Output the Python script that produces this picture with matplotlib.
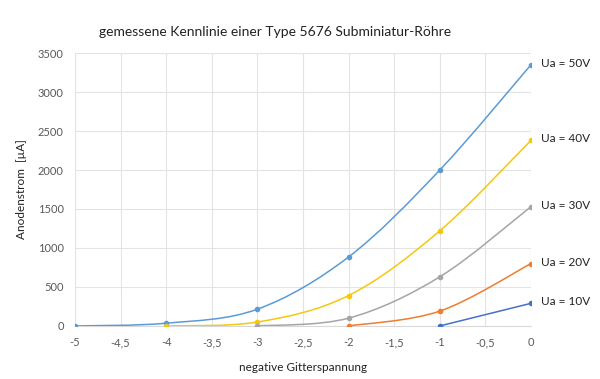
import numpy as np
import matplotlib.pyplot as plt
from matplotlib.path import Path
from matplotlib.patches import PathPatch

plt.rcParams['font.family'] = ['Lato', 'DejaVu Sans']

# measured curves: grid voltage [V] -> anode current [uA]
ug_50 = [-5, -4, -3, -2, -1, 0]
ia_50 = [0, 35, 215, 885, 2000, 3350]
ug_40 = [-4, -3, -2, -1, 0]
ia_40 = [0, 50, 390, 1220, 2380]
ug_30 = [-3, -2, -1, 0]
ia_30 = [0, 100, 630, 1530]
ug_20 = [-2, -1, 0]
ia_20 = [0, 190, 800]
ug_10 = [-1, 0]
ia_10 = [0, 290]

labels = ['Ua = 50V', 'Ua = 40V', 'Ua = 30V', 'Ua = 20V', 'Ua = 10V']
colors = ['#5B9BD5', '#F2C811', '#A5A5A5', '#ED7D31', '#4472C4']
xticks = [-5, -4.5, -4, -3.5, -3, -2.5, -2, -1.5, -1, -0.5, 0]
yticks = [0, 500, 1000, 1500, 2000, 2500, 3000, 3500]


def smooth_path(x, y):
    # Excel-style smoothed line: Catmull-Rom segments as cubic Bezier
    pts = np.column_stack([x, y]).astype(float)
    verts = [pts[0]]
    codes = [Path.MOVETO]
    n = len(pts)
    for i in range(n - 1):
        p0 = pts[i - 1] if i > 0 else pts[i]
        p1 = pts[i]
        p2 = pts[i + 1]
        p3 = pts[i + 2] if i + 2 < n else pts[i + 1]
        c1 = p1 + (p2 - p0) / 6.0
        c2 = p2 - (p3 - p1) / 6.0
        verts += [c1, c2, p2]
        codes += [Path.CURVE4] * 3
    return Path(verts, codes)


fig = plt.figure(figsize=(6, 3.79), dpi=100)
ax = fig.add_axes([0.125, 0.14, 0.76, 0.72])

series = [(ug_50, ia_50), (ug_40, ia_40), (ug_30, ia_30),
          (ug_20, ia_20), (ug_10, ia_10)]
for (x, y), c, lab in zip(series, colors, labels):
    ax.add_patch(PathPatch(smooth_path(x, y), fill=False, edgecolor=c,
                           linewidth=1.1, zorder=3))
    ax.plot(x, y, 'o', color=c, markersize=3, zorder=4)
    ax.annotate(lab, xy=(x[-1], y[-1]), xytext=(7, 1),
                textcoords='offset points', va='center', ha='left',
                fontsize=8.5, color='#222222', annotation_clip=False)

ax.set_xlim(-5, 0)
ax.set_ylim(0, 3500)
ax.set_xticks(xticks)
ax.set_xticklabels([f'{t:g}'.replace('.', ',') for t in xticks])
ax.set_yticks(yticks)
ax.grid(color='#E3E3E3', linewidth=0.8)
ax.set_axisbelow(True)
for s in ['top', 'right', 'left']:
    ax.spines[s].set_visible(False)
ax.spines['bottom'].set_color('#D9D9D9')
ax.tick_params(length=0, labelsize=8, colors='#595959', pad=8)

ax.set_xlabel('negative Gitterspannung', fontsize=8.5, color='#222222',
              labelpad=10)
ax.set_ylabel('Anodenstrom  [µA]', fontsize=8.5, color='#222222',
              labelpad=8)
fig.text(0.165, 0.915, 'gemessene Kennlinie einer Type 5676 Subminiatur-Röhre',
         fontsize=10, color='#222222', ha='left', va='center')

fig.savefig('out.png', dpi=100)
